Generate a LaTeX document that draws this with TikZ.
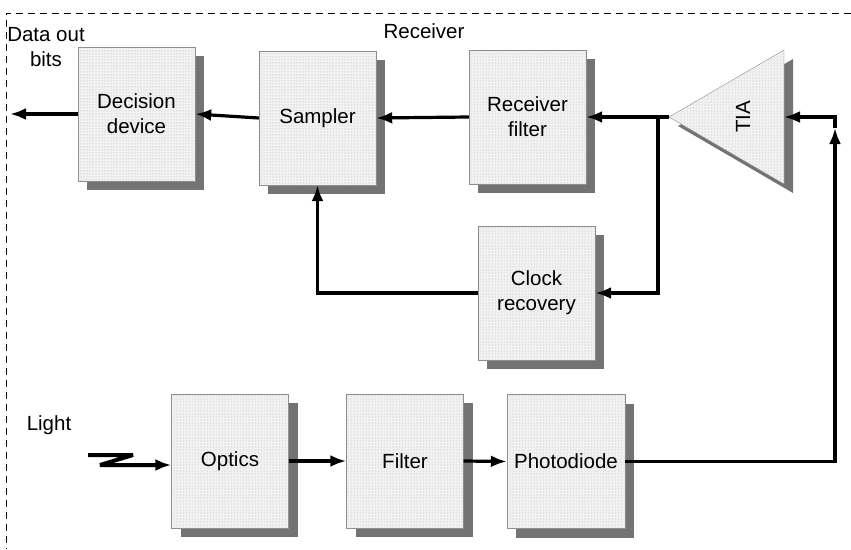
\documentclass[tikz,border=0pt]{standalone}
\usepackage{fontspec}
\setmainfont{Liberation Sans}
\usetikzlibrary{arrows.meta,shadows,patterns}
\tikzset{>={Latex[length=16pt,width=12pt]}}
\tikzset{
    block/.style={draw=black!45,fill=black!5,minimum width=117pt,minimum height=134pt,
        inner sep=0pt,align=center,postaction={pattern=dots,pattern color=black!30},
        drop shadow={shadow xshift=9pt,shadow yshift=-9pt,fill=black!55,opacity=1}},
    wire/.style={line width=3.2pt},
    frame/.style={line width=0.8pt,dash pattern=on 7pt off 5pt}
}

\begin{document}
\begin{tikzpicture}[x=1pt,y=-1pt,font=\fontsize{20.5}{25}\selectfont]
            \useasboundingbox (0,0) rectangle (851,549);
            \draw[frame] (851,13) -- (6,13) -- (6,549);
            \node (rx)    at (424,31)  {Receiver};
            \node[align=center] (dout) at (46,47) {Data out\\bits};
            \node (light) at (49,425)  {Light};
            \node[block] (dec)  at (136.5,114) {Decision\\device};
            \node[block] (smp)  at (317.5,118) {Sampler};
            \node[block] (rfl)  at (527.5,117) {Receiver\\filter};
            \node[block] (clk)  at (536.5,293) {Clock\\recovery};
            \node[block] (opt)  at (230,461)   {Optics};
            \node[block] (filt) at (405,461)   {Filter};
            \node[block,minimum width=118pt] (pd) at (566,461.5) {Photodiode};
            \coordinate (tip) at (669,117);
            \coordinate (tin) at (784,117);
            \fill[black!55] (678,126) -- (793,59) -- (793,193) -- cycle;
            \draw[draw=black!45,fill=black!5,postaction={pattern=dots,pattern color=black!30}]
                (tip) -- (784,50) -- (784,184) -- cycle;
            \node[rotate=90] (tia) at (743,117) {TIA};
            \coordinate (split) at (658,117);
            \coordinate (ret)   at (835,128);
            \coordinate (out)   at (10,114);
            \coordinate (l1) at (88,455);
            \coordinate (l2) at (133,455);
            \coordinate (l3) at (100,465);
            \draw[wire,->] (dec.west) -- (out);
            \draw[wire,->] (smp.west) -- (dec.east);
            \draw[wire,->] (rfl.west) -- (smp.east);
            \draw[wire,->] (tip) -- (rfl.east);
            \draw[wire,->] (split) |- (clk.east);
            \draw[wire,->] (clk.west) -| (smp.south);
            \draw[wire,line width=4pt,->,line join=bevel] (l1) -- (l2) -- (l3) -- (l3 -| opt.west);
            \draw[wire,->] (opt.east) -- (filt.west);
            \draw[wire,->] (filt.east) -- (pd.west);
            \draw[wire,->] (pd.east) -| (ret);
            \draw[wire,->] (ret) |- (tin);
        \end{tikzpicture}
\end{document}
